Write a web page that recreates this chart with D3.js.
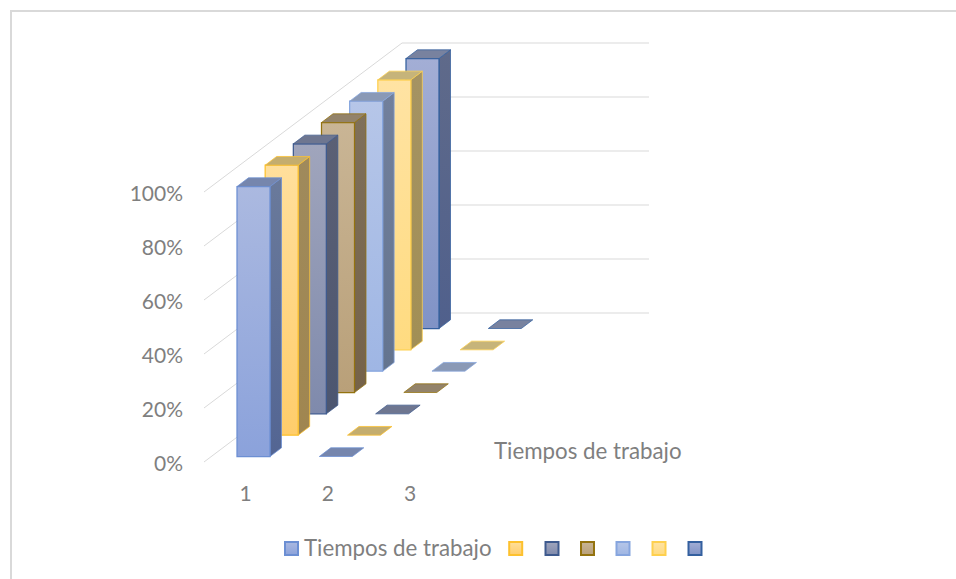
<!DOCTYPE html>
<html>
<head>
<meta charset="utf-8">
<script src="https://d3js.org/d3.v7.min.js"></script>
<style>
    html, body { margin: 0; padding: 0; background: #fff; }
    svg { display: block; }
    text { font-family: Lato, "Open Sans", sans-serif; fill: #7f7f7f; }
</style>
</head>
<body>
<div id="chart"></div>
<script>
// values
let categories = ["1", "2", "3"]
let series_names = ["Tiempos de trabajo", "", "", "", "", "", ""]
let series_values = [
    [100, 0, null],
    [100, 0, null],
    [100, 0, null],
    [100, 0, null],
    [100, 0, null],
    [100, 0, null],
    [100, 0, null]
]
let percent_ticks = [0, 20, 40, 60, 80, 100]

// front top, front bottom, line, side top, side bottom, roof
let front_top = ["#abb9e0", "#ffdf9c", "#a0a5bc", "#c9b595", "#b6c6e8", "#ffe3a3", "#a3aed5"]
let front_bottom = ["#8ba2db", "#ffcd6b", "#7f8aac", "#b9a079", "#9fb6e4", "#ffdb80", "#8093c6"]
let line_colors = ["#6c8fd3", "#fdc12e", "#3e5a8e", "#94730f", "#86a5de", "#fed04e", "#34609f"]
let side_top = ["#6a7a9b", "#9f8a5c", "#5b6075", "#7f705a", "#72809c", "#a59363", "#5f6a8a"]
let side_bottom = ["#536593", "#a08650", "#4c5670", "#756249", "#64748f", "#a28f55", "#50608c"]
let roof_colors = ["#7686ad", "#c4ad6e", "#6e7690", "#93836a", "#8a99b6", "#c6b47a", "#78829f"]

let svg_width = 956
let svg_height = 579

let svg = d3.select("#chart")
    .append("svg")
    .attr("width", svg_width)
    .attr("height", svg_height)

// chart border, only the top and left edges are in the picture
svg.append("path")
    .attr("d", d3.line()([[11, svg_height], [11, 11], [svg_width, 11]]))
    .attr("fill", "none")
    .attr("stroke", "#d9d9d9")
    .attr("stroke-width", 2)

// oblique projection, three scales added together
let catScale = d3.scaleLinear().domain([0, 1]).range([237, 319.3])
let bar_width = 33
let depth_x = d3.scaleLinear().domain([0, 6]).range([0, 169])
let depth_y = d3.scaleLinear().domain([0, 6]).range([0, -128])
let value_scale = d3.scaleLinear().domain([0, 100]).range([0, -270])

let base_y = 456.5
let box_dx = 11.5
let box_dy = -8.7

// walls
let wall_left_x = 204
let wall_back_x = 402
let wall_right_x = 649
let wall_front_y = 462
let wall_back_y = 313

let grid = svg.append("g")
    .attr("fill", "none")
    .attr("stroke", "#d9d9d9")
    .attr("stroke-width", 1)

percent_ticks.forEach(function (t) {
    let dy = value_scale(t)
    grid.append("path")
        .attr("d", d3.line()([
            [wall_left_x, wall_front_y + dy],
            [wall_back_x, wall_back_y + dy],
            [wall_right_x, wall_back_y + dy]
        ]))
})

// axis labels
let value_axis = d3.axisLeft(d3.scaleLinear().domain([0, 100]).range([wall_front_y + 2, wall_front_y + 2 - 270]))
    .tickValues(percent_ticks)
    .tickFormat(function (d) { return d + "%" })
    .tickSize(0)
    .tickPadding(0)

let value_axis_g = svg.append("g")
    .attr("transform", "translate(183,0)")
    .call(value_axis)
value_axis_g.select(".domain").remove()
value_axis_g.selectAll("text")
    .attr("font-size", 21)
    .style("font-family", "Lato")
    .style("fill", "#7f7f7f")

svg.selectAll(".cat_label")
    .data(categories)
    .enter()
    .append("text")
    .attr("class", "cat_label")
    .attr("x", function (d, i) { return catScale(i) + 8.5 })
    .attr("y", 500.5)
    .attr("text-anchor", "middle")
    .attr("font-size", 21)
    .text(function (d) { return d })

svg.append("text")
    .attr("x", 494)
    .attr("y", 459)
    .attr("font-size", 22.3)
    .text(series_names[0])

// gradients
let defs = svg.append("defs")

function addGradient(id, top, bottom) {
    let g = defs.append("linearGradient")
        .attr("id", id)
        .attr("x1", 0).attr("x2", 0)
        .attr("y1", 0).attr("y2", 1)
    g.append("stop").attr("offset", "0%").attr("stop-color", top)
    g.append("stop").attr("offset", "100%").attr("stop-color", bottom)
}

series_names.forEach(function (name, s) {
    addGradient("front" + s, front_top[s], front_bottom[s])
    addGradient("side" + s, side_top[s], side_bottom[s])
})

// bars, back series first so the nearer ones cover them
let bars = svg.append("g")

d3.range(series_names.length).reverse().forEach(function (s) {
    categories.forEach(function (c, i) {
        let v = series_values[s][i]
        if (v === null) { return }

        let x0 = catScale(i) + depth_x(s)
        let x1 = x0 + bar_width
        let y0 = base_y + depth_y(s)
        let y1 = y0 + value_scale(v)

        let front = [[x0, y0], [x1, y0], [x1, y1], [x0, y1]]
        let side = [[x1, y0], [x1 + box_dx, y0 + box_dy], [x1 + box_dx, y1 + box_dy], [x1, y1]]
        let roof = [[x0, y1], [x1, y1], [x1 + box_dx, y1 + box_dy], [x0 + box_dx, y1 + box_dy]]

        let poly = d3.line().curve(d3.curveLinearClosed)

        if (v > 0) {
            bars.append("path")
                .attr("d", poly(side))
                .attr("fill", "url(#side" + s + ")")
                .attr("stroke", line_colors[s])
                .attr("stroke-width", 0.75)
            bars.append("path")
                .attr("d", poly(front))
                .attr("fill", "url(#front" + s + ")")
                .attr("stroke", line_colors[s])
                .attr("stroke-width", 1.25)
        }
        bars.append("path")
            .attr("d", poly(roof))
            .attr("fill", roof_colors[s])
            .attr("stroke", line_colors[s])
            .attr("stroke-width", 0.75)
    })
})

// legend
let legend_x = [291.5, 515.7, 552, 587.5, 623, 659, 695]
let legend_y = 548.5

svg.selectAll(".legend_box")
    .data(series_names)
    .enter()
    .append("rect")
    .attr("class", "legend_box")
    .attr("x", function (d, i) { return legend_x[i] - 6.5 })
    .attr("y", legend_y - 6.5)
    .attr("width", 13)
    .attr("height", 13)
    .attr("fill", function (d, i) { return "url(#front" + i + ")" })
    .attr("stroke", function (d, i) { return line_colors[i] })
    .attr("stroke-width", 2)

svg.append("text")
    .attr("x", 304)
    .attr("y", 556)
    .attr("font-size", 22.3)
    .text(series_names[0])
</script>
</body>
</html>
